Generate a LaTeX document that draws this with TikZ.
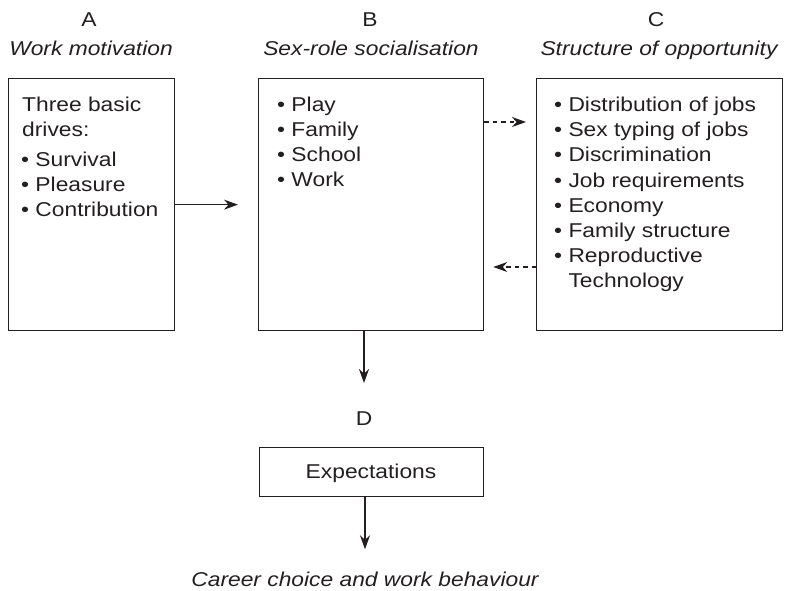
\documentclass[tikz,border=0pt]{standalone}
\usepackage{fontspec}
\setmainfont{Liberation Sans}[FakeStretch=1.14]
\usetikzlibrary{arrows.meta,calc}
\definecolor{ink}{HTML}{231F20}
\begin{document}
\begin{tikzpicture}[x=1pt,y=-1pt,
  every node/.style={text=ink, font=\fontsize{20}{25}\selectfont, inner sep=0pt},
  box/.style={draw=ink, line width=1.3pt, rectangle, anchor=north west},
  line/.style={anchor=base west},
  head/.style={anchor=base},
  title/.style={anchor=base, font=\fontsize{20}{25}\selectfont\itshape},
  arr/.style={draw=ink, line width=1.3pt, -{Stealth[length=14pt,width=10pt,inset=4.5pt]}},
  dasharr/.style={arr, dash pattern=on 4.5pt off 4pt}]
\useasboundingbox (0,0) rectangle (788,590);

% boxes
\node[box, minimum width=166pt, minimum height=252pt] (boxA) at (8,78) {};
\node[box, minimum width=225pt, minimum height=252pt] (boxB) at (258,78) {};
\node[box, minimum width=246pt, minimum height=252pt] (boxC) at (536,78) {};
\node[box, minimum width=224pt, minimum height=49pt] (boxD) at (259,447) {};

% headings
\node[head] (keyA) at (89,26) {A};
\node[title] (titA) at (91,55) {Work motivation};
\node[head] (keyB) at (370,26) {B};
\node[title] (titB) at (371,55) {Sex-role socialisation};
\node[head] (keyC) at (656,26) {C};
\node[title] (titC) at (659,55) {Structure of opportunity};

% box A contents
\node[line] (a1) at (22,111) {Three basic};
\node[line] (a2) at (22,136) {drives:};
\node[line] (a3) at (21,166) {• Survival};
\node[line] (a4) at (21,191) {• Pleasure};
\node[line] (a5) at (21,216) {• Contribution};

% box B contents
\node[line] (b1) at (277,111) {• Play};
\node[line] (b2) at (277,136) {• Family};
\node[line] (b3) at (277,161) {• School};
\node[line] (b4) at (277,186) {• Work};

% box C contents
\node[line] (c1) at (554,111.5) {• Distribution of jobs};
\node[line] (c2) at (554,136.7) {• Sex typing of jobs};
\node[line] (c3) at (554,161.9) {• Discrimination};
\node[line] (c4) at (554,187.1) {• Job requirements};
\node[line] (c5) at (554,212.3) {• Economy};
\node[line] (c6) at (554,237.5) {• Family structure};
\node[line] (c7) at (554,262.7) {• Reproductive};
\node[line] (c8) at (554,287.9) {\phantom{• }Technology};

% lower part
\node[head] (lblD) at (364,425) {D};
\node[head] (expD) at (371,478) {Expectations};
\node[title] (career) at (365,586) {Career choice and work behaviour};

% connectors
\draw[arr, shorten >=20pt] (boxA.east) -- (boxA.east -| boxB.west);
\coordinate (bOut) at ($(boxB.north east)+(0,44)$);
\coordinate (cOut) at ($(boxC.north west)+(0,189)$);
\draw[dasharr, shorten >=10pt] (bOut) -- (bOut -| boxC.west);
\draw[dasharr, shorten >=9pt] (cOut) -- (cOut -| boxB.east);
\draw[arr, shorten >=28pt] (boxB.south -| lblD.north) -- (lblD.north);
\draw[arr, shorten >=22pt] (boxD.south -| career.north) -- (career.north);
\end{tikzpicture}
\end{document}
